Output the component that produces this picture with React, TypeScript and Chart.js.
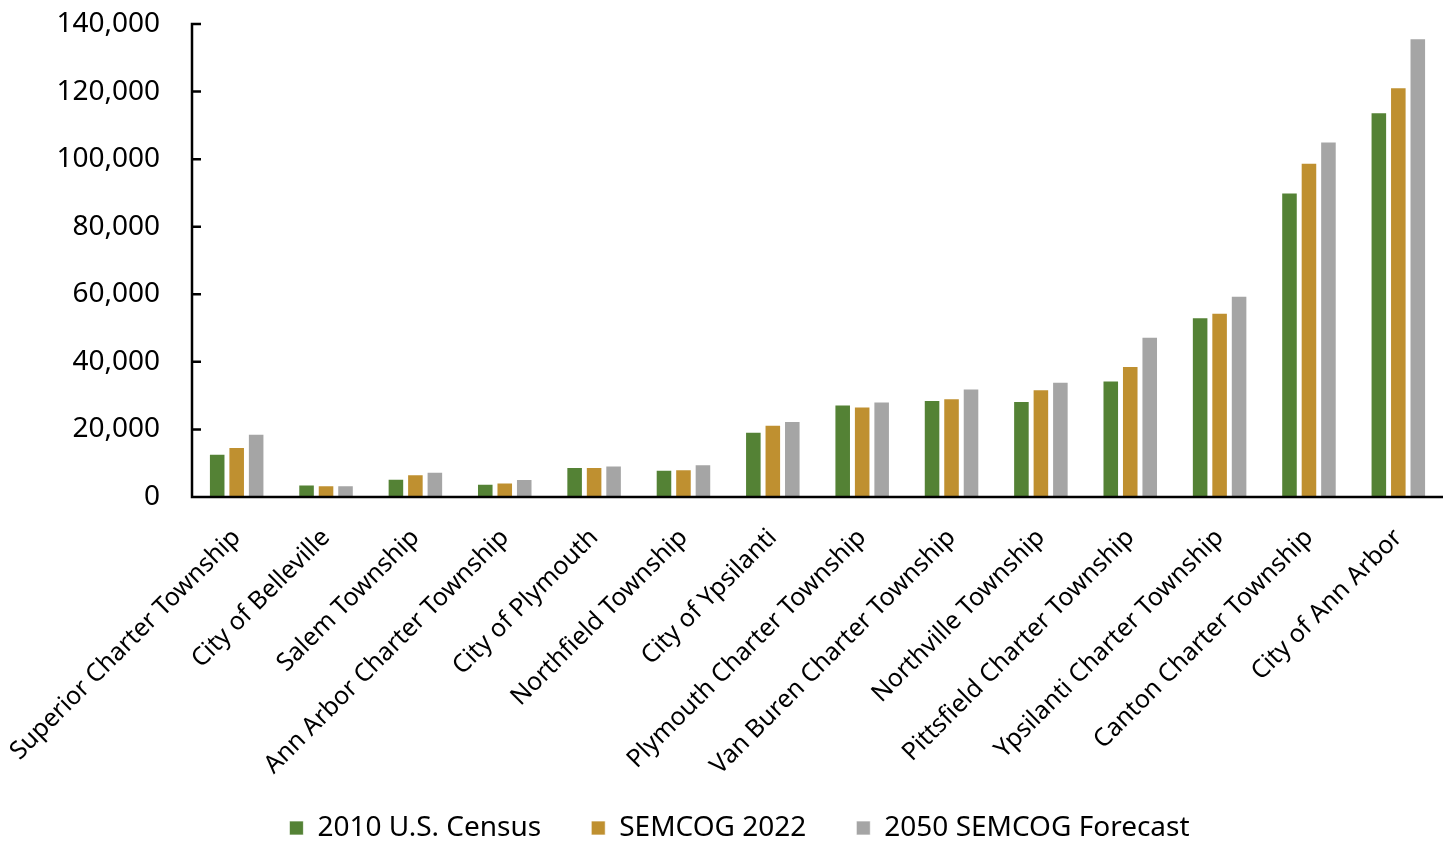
import React, { useEffect, useRef } from "react";
import { Chart, registerables } from "chart.js";

Chart.register(...registerables);

// Population by community: 2010 census, 2022 estimate, 2050 forecast
const categories = [
  "Superior Charter Township",
  "City of Belleville",
  "Salem Township",
  "Ann Arbor Charter Township",
  "City of Plymouth",
  "Northfield Township",
  "City of Ypsilanti",
  "Plymouth Charter Township",
  "Van Buren Charter Township",
  "Northville Township",
  "Pittsfield Charter Township",
  "Ypsilanti Charter Township",
  "Canton Charter Township",
  "City of Ann Arbor",
];

const census2010 = [12800, 3700, 5400, 3900, 8900, 8100, 19300, 27400, 28700, 28400, 34500, 53200, 90100, 113900];
const semcog2022 = [14800, 3500, 6700, 4300, 8900, 8200, 21400, 26800, 29200, 31900, 38800, 54500, 98900, 121300];
const forecast2050 = [18700, 3500, 7500, 5300, 9300, 9700, 22500, 28300, 32100, 34100, 47400, 59600, 105200, 135800];

const seriesNames = ["2010 U.S. Census", "SEMCOG 2022", "2050 SEMCOG Forecast"];
const seriesColors = ["#548235", "#BF9030", "#A5A5A5"];

const yMin = 0;
const yMax = 140000;
const yStep = 20000;

const FONT = "'Noto Sans', 'Open Sans', sans-serif";

// Black axis lines with inward tick marks on the value axis
const axisLines = {
  id: "axisLines",
  afterDatasetsDraw(chart: any) {
    const { ctx, chartArea, scales } = chart;
    const y = scales.y;
    const left = chartArea.left;
    const zero = y.getPixelForValue(0);
    ctx.save();
    ctx.strokeStyle = "#000";
    ctx.lineWidth = 2.5;
    ctx.beginPath();
    ctx.moveTo(left, y.getPixelForValue(yMax) - 1.25);
    ctx.lineTo(left, zero);
    ctx.lineTo(chartArea.right, zero);
    y.ticks.forEach((t: any) => {
      const py = y.getPixelForValue(t.value);
      ctx.moveTo(left, py);
      ctx.lineTo(left + 9, py);
    });
    ctx.stroke();
    ctx.restore();
  },
};

export default function App() {
  const canvasRef = useRef<HTMLCanvasElement | null>(null);

  useEffect(() => {
    if (!canvasRef.current) return;
    const data = [census2010, semcog2022, forecast2050];
    const chart = new Chart(canvasRef.current, {
      type: "bar",
      data: {
        labels: categories,
        datasets: seriesNames.map((name, i) => ({
          label: name,
          data: data[i],
          backgroundColor: seriesColors[i],
          borderColor: "rgba(255,255,255,0.7)",
          borderWidth: 1,
          categoryPercentage: 0.654,
          barPercentage: 0.85,
        })),
      },
      options: {
        animation: false,
        responsive: true,
        maintainAspectRatio: false,
        layout: { padding: { top: 24, right: 6, left: 36, bottom: 0 } },
        plugins: {
          tooltip: { enabled: false },
          legend: {
            position: "bottom",
            maxHeight: 77,
            labels: {
              boxWidth: 14,
              boxHeight: 14,
              padding: 50,
              color: "#000",
              font: { family: FONT, size: 28 },
            },
          },
        },
        scales: {
          x: {
            grid: { display: false, drawTicks: false },
            border: { display: false },
            ticks: {
              color: "#000",
              font: { family: FONT, size: 25 },
              minRotation: 45,
              maxRotation: 45,
              padding: 26,
              autoSkip: false,
            },
            afterFit(scale: any) {
              scale.height = 267;
              scale.paddingLeft = 0;
              scale.paddingRight = 0;
              scale.paddingTop = 0;
              scale.paddingBottom = 0;
              // let the long rotated labels run past the scale box
              scale._computeLabelArea = () => undefined;
            },
          },
          y: {
            min: yMin,
            max: yMax,
            grid: { display: false, drawTicks: false },
            border: { display: false },
            ticks: {
              stepSize: yStep,
              color: "#000",
              padding: 32,
              font: { family: FONT, size: 28 },
              callback: (v: any) => Number(v).toLocaleString("en-US"),
            },
            afterFit(scale: any) {
              scale.width = 156;
              scale.paddingTop = 0;
              scale.paddingBottom = 0;
            },
          },
        },
      },
      plugins: [axisLines],
    });
    return () => chart.destroy();
  }, []);

  return (
    <div style={{ position: "absolute", left: 0, top: 0, width: 1449, height: 841, background: "#fff" }}>
      <canvas ref={canvasRef} />
    </div>
  );
}
